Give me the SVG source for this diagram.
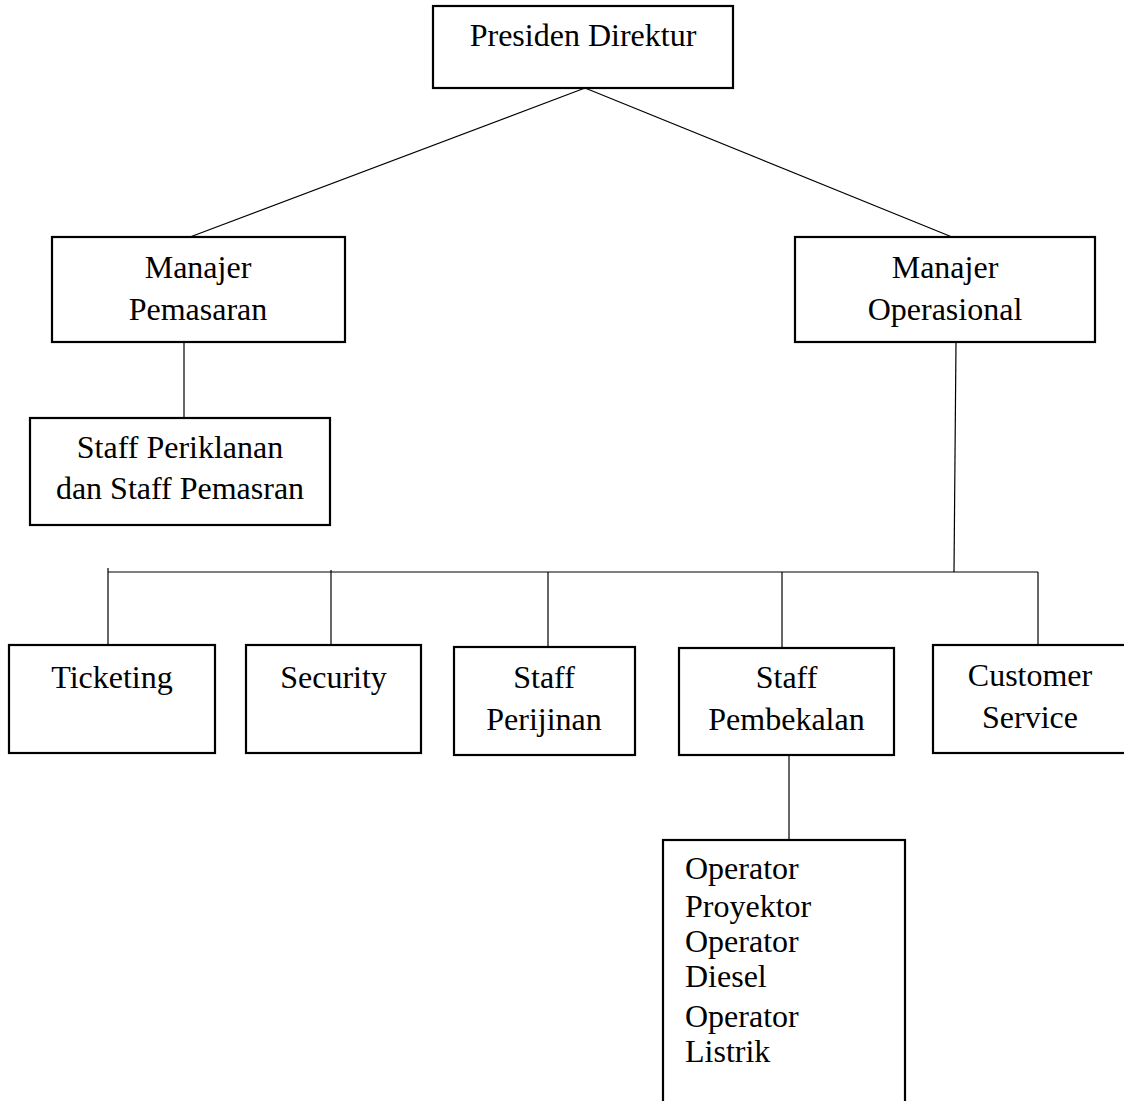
<svg xmlns="http://www.w3.org/2000/svg" width="1124" height="1101" viewBox="0 0 1124 1101">
<style>
.box{fill:#fff;stroke:#000;stroke-width:2.2}
.t{font-family:"Liberation Serif","Times New Roman",serif;font-size:32px;fill:#000}
.c{text-anchor:middle}
.ln{stroke:#000;stroke-width:1.2;fill:none}
</style>
<rect width="1124" height="1101" fill="#fff"/>
<g id="connectors">
<line class="ln" x1="585" y1="88" x2="190" y2="237"/>
<line class="ln" x1="585" y1="88" x2="952" y2="237"/>
<line class="ln" x1="184" y1="342" x2="184" y2="418"/>
<line class="ln" x1="956" y1="342" x2="954" y2="572"/>
<line class="ln" x1="108" y1="572" x2="1038" y2="572"/>
<line class="ln" x1="108" y1="568" x2="108" y2="645"/>
<line class="ln" x1="331" y1="570" x2="331" y2="647"/>
<line class="ln" x1="548" y1="572" x2="548" y2="647"/>
<line class="ln" x1="782" y1="572" x2="782" y2="648"/>
<line class="ln" x1="1038" y1="572" x2="1038" y2="645"/>
<line class="ln" x1="789" y1="755" x2="789" y2="840"/>
</g>
<g id="presiden-direktur">
<rect class="box" x="433" y="6" width="300" height="82"/>
<text class="t c" x="583" y="46">Presiden Direktur</text>
</g>
<g id="manajer-pemasaran">
<rect class="box" x="52" y="237" width="293" height="105"/>
<text class="t c" x="198" y="278">Manajer</text>
<text class="t c" x="198" y="320">Pemasaran</text>
</g>
<g id="manajer-operasional">
<rect class="box" x="795" y="237" width="300" height="105"/>
<text class="t c" x="945" y="278">Manajer</text>
<text class="t c" x="945" y="320">Operasional</text>
</g>
<g id="staff-periklanan">
<rect class="box" x="30" y="418" width="300" height="107"/>
<text class="t c" x="180" y="458">Staff Periklanan</text>
<text class="t c" x="180" y="499">dan Staff Pemasran</text>
</g>
<g id="ticketing">
<rect class="box" x="9" y="645" width="206" height="108"/>
<text class="t c" x="112" y="688">Ticketing</text>
</g>
<g id="security">
<rect class="box" x="246" y="645" width="175" height="108"/>
<text class="t c" x="333.5" y="688">Security</text>
</g>
<g id="staff-perijinan">
<rect class="box" x="454" y="647" width="181" height="108"/>
<text class="t c" x="544" y="688">Staff</text>
<text class="t c" x="544" y="730">Perijinan</text>
</g>
<g id="staff-pembekalan">
<rect class="box" x="679" y="648" width="215" height="107"/>
<text class="t c" x="786.5" y="688">Staff</text>
<text class="t c" x="786.5" y="730">Pembekalan</text>
</g>
<g id="customer-service">
<rect class="box" x="933" y="645" width="194" height="108"/>
<text class="t c" x="1030" y="686">Customer</text>
<text class="t c" x="1030" y="728">Service</text>
</g>
<g id="operator">
<rect class="box" x="663" y="840" width="242" height="270"/>
<text class="t" x="685" y="879">Operator</text>
<text class="t" x="685" y="917">Proyektor</text>
<text class="t" x="685" y="952">Operator</text>
<text class="t" x="685" y="987">Diesel</text>
<text class="t" x="685" y="1027">Operator</text>
<text class="t" x="685" y="1062">Listrik</text>
</g>
</svg>
